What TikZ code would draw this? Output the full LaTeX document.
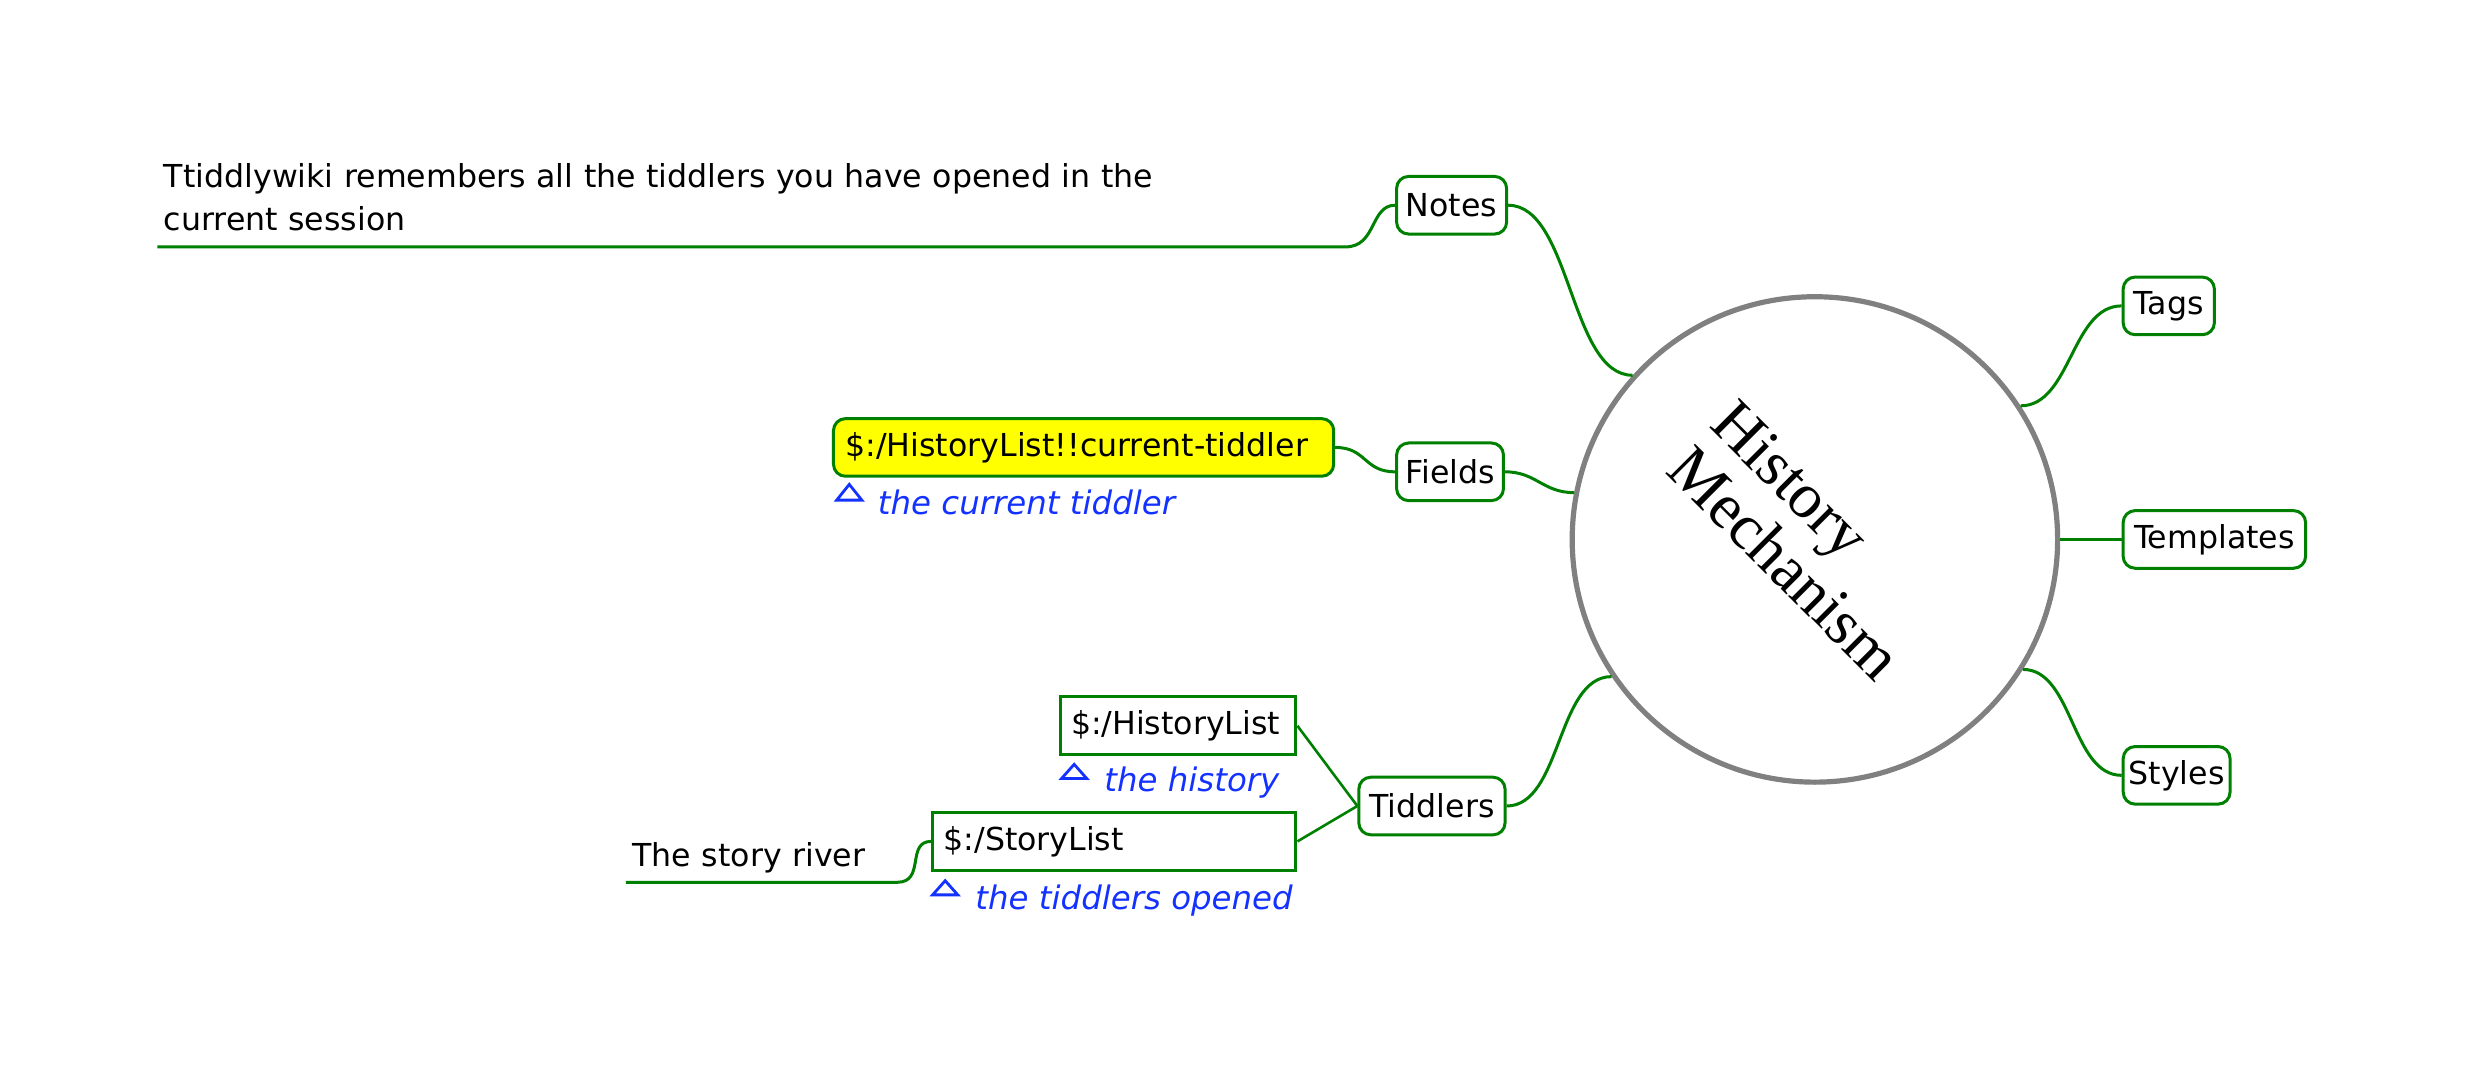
\documentclass[tikz,border=0pt]{standalone}
\usepackage{fontspec}
\setmainfont{DejaVu Sans}
\newfontfamily\hmserif{Liberation Serif}
\usetikzlibrary{calc}
\definecolor{mmgreen}{RGB}{0,128,0}
\definecolor{mmgray}{RGB}{128,128,128}
\definecolor{mmblue}{RGB}{20,50,255}
\definecolor{mmyellow}{RGB}{255,255,0}
\newcommand{\mmfont}{\fontsize{15.8}{19}\selectfont}
\tikzset{
  conn/.style={draw=mmgreen, line width=1.5pt},
  topic/.style={draw=mmgreen, line width=1.5pt, rounded corners=6pt, fill=white,
    inner sep=0pt, font=\mmfont, minimum height=28.8pt},
  leafbox/.style={draw=mmgreen, line width=1.5pt, inner xsep=5.5pt, inner ysep=0pt,
    align=left, font=\mmfont, minimum height=28.8pt},
  detail/.style={text=mmblue, font=\fontsize{16.2}{19}\selectfont\itshape, inner sep=0pt, anchor=base west},
  fork/.style={inner xsep=3.1pt, align=left, anchor=south west},
  tri/.style={draw=mmblue, line width=1.4pt, line join=miter},
  hmtitle/.style={rotate=-45, anchor=base west, inner sep=0pt, font=\hmserif\fontsize{32}{32}\selectfont},
}
\begin{document}
\begin{tikzpicture}[x=0.786pt, y=-0.786pt]
\useasboundingbox (0,0) rectangle (1568,684);

% central topic
\node[draw=mmgray, line width=2.6pt, circle, minimum size=242.6pt, inner sep=0pt] (hm) at (1154,343) {};
\node[hmtitle] (hmtitle1) at (1086,271) {History};
\node[hmtitle] (hmtitle2) at (1058,300) {Mechanism};

% first-level topics
\node[topic, minimum width=55pt] (notes) at (923,130.5) {Notes};
\node[topic, minimum width=53.4pt] (fields) at (922,300) {Fields};
\node[topic, minimum width=73.1pt] (tiddlers) at (910.5,512.5) {Tiddlers};
\node[topic, minimum width=45.6pt] (tags) at (1379,194.5) {Tags};
\node[topic, minimum width=91.2pt] (templates) at (1408,343) {Templates};
\node[topic, minimum width=53.4pt] (styles) at (1384,493) {Styles};

% second-level
\node[fork, inner ysep=7.9pt, font=\fontsize{15.8}{21.2}\selectfont, text width=587.2pt] (note) at (100,157)
  {Ttiddlywiki remembers all the tiddlers you have opened in the\\current session};
\node[leafbox, rounded corners=6pt, fill=mmyellow, inner xsep=6pt, text width=238pt] (cur) at (689,284.5)
  {\$:/HistoryList!!current-tiddler};
\node[leafbox, text width=106.9pt] (hist) at (749,461.5) {\$:/HistoryList};
\node[leafbox, text width=170.6pt] (story) at (708.5,535) {\$:/StoryList};
\node[fork, inner ysep=4.2pt, font=\mmfont, text width=129pt] (river) at (398,561) {The story river};

% details
\node[detail] (det1) at (558,327) {the current tiddler};
\node[detail] (det2) at (702,503) {the history};
\node[detail] (det3) at (620,578) {the tiddlers opened};
\draw[tri] (540,308) -- (548,318) -- (532,318) -- cycle;
\draw[tri] (683,486) -- (691,495) -- (675,495) -- cycle;
\draw[tri] (601,560) -- (609,569) -- (593,569) -- cycle;

% connectors
\draw[conn] (notes.east) .. controls +(40,0) and +(-40,0) .. (hm.138);
\draw[conn] (fields.east) .. controls +(20,0) and +(-20,0) .. (hm.169);
\draw[conn] (tiddlers.east) .. controls +(35,0) and +(-35,0) .. (hm.214);
\draw[conn] (hm.33.5) .. controls +(32,0) and +(-32,0) .. (tags.west);
\draw[conn] (hm.0) -- (templates.west);
\draw[conn] (hm.-32) .. controls +(32,0) and +(-32,0) .. (styles.west);
\draw[conn] (cur.east) .. controls +(20,0) and +(-20,0) .. (fields.west);
\draw[conn, line width=1.3pt] (hist.east) -- (tiddlers.west);
\draw[conn, line width=1.3pt] (story.east) -- (tiddlers.west);
\draw[conn] (note.south west) -- (note.south east) .. controls +(20,0) and +(-16,0) .. (notes.west);
\draw[conn] (river.south west) -- (river.south east) .. controls +(18,0) and +(-16,0) .. (story.west);
\end{tikzpicture}
\end{document}
